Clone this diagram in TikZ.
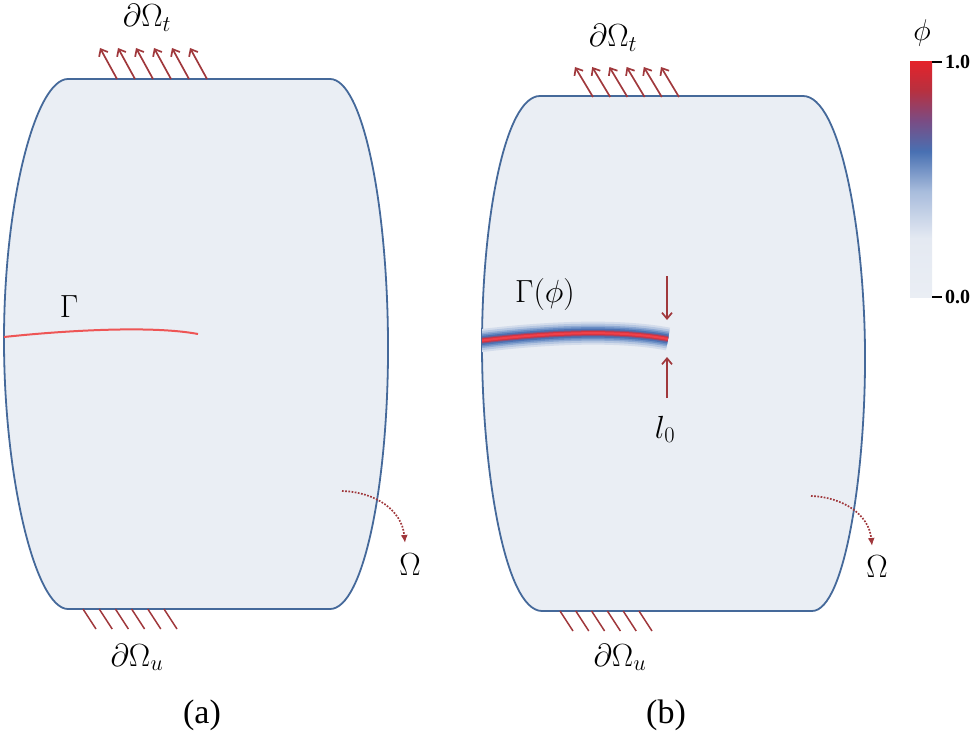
\RequirePackage{fix-cm}
\documentclass[tikz,border=0pt]{standalone}
\usepackage[no-math]{fontspec}
\setmainfont{Liberation Serif}
\usetikzlibrary{arrows.meta}
\definecolor{fillc}{HTML}{EAEEF4}
\definecolor{shapeblue}{HTML}{45699A}
\definecolor{loadred}{HTML}{A0383C}
\definecolor{crackred}{HTML}{EE5555}
\definecolor{cm0}{HTML}{EAEEF4}
\definecolor{cm1}{HTML}{E4E9F2}
\definecolor{cm2}{HTML}{A8BCDC}
\definecolor{cm3}{HTML}{4870B2}
\definecolor{cm4}{HTML}{7A4C84}
\definecolor{cm5}{HTML}{B8303F}
\definecolor{cm6}{HTML}{E3232B}
\pgfdeclareverticalshading{phimap}{100bp}{color(0bp)=(cm0); color(25bp)=(cm0); color(37.5bp)=(cm1); color(47.5bp)=(cm2); color(56bp)=(cm3); color(62.5bp)=(cm4); color(69bp)=(cm5); color(75bp)=(cm6); color(100bp)=(cm6)}
\begin{document}
\begin{tikzpicture}[x=1pt,y=-1pt,
  bodyshape/.style={draw=shapeblue, line width=1.8pt, fill=fillc},
  loadarrow/.style={draw=loadred, line width=1.7pt, -{Straight Barb[length=6pt,width=10pt]}},
  hatchline/.style={draw=loadred, line width=1.5pt},
  mlabel/.style={font=\fontsize{32}{36}\selectfont, inner sep=0pt, anchor=base},
  sublabel/.style={font=\fontsize{34}{38}\selectfont, inner sep=0pt, anchor=base},
  barlabel/.style={font=\fontsize{20}{22}\selectfont\bfseries, inner sep=0pt, anchor=west},
  dotarrow/.style={draw=loadred, line width=1.7pt, dash pattern=on 1.7pt off 1.5pt, -{Latex[length=8pt,width=7pt]}},
  widtharrow/.style={draw=loadred, line width=1.7pt, -{Straight Barb[length=6pt,width=10pt]}}]
\path[use as bounding box] (0,0) rectangle (980,733);

% ---------- (a) ----------
\path[bodyshape] (68,79) -- (330,79) .. controls (362,79) and (387,200) .. (388,340)
  .. controls (389,480) and (364,609) .. (330,609) -- (68,609)
  .. controls (36,609) and (4,480) .. (4,340) .. controls (4,200) and (36,79) .. (68,79) -- cycle;
\coordinate (ca0) at (4,337);
\coordinate (ca1) at (198,334);
\draw[crackred, line width=2pt] (ca0) .. controls (60,331) and (150,325) .. (ca1);
\node[mlabel] (gammaA) at (69,317) {$\Gamma$};
\foreach \i in {0,...,5} {
  \coordinate (ta\i) at ({117+18*\i},79);
  \coordinate (tta\i) at ({100+18*\i},48);
  \draw[loadarrow] (ta\i) -- (tta\i);
  \coordinate (ha\i) at ({83+16.2*\i},609);
  \coordinate (hha\i) at ({96+16.2*\i},629);
  \draw[hatchline] (ha\i) -- (hha\i);
}
\node[mlabel] (dtA) at (147,27) {$\partial\Omega_t$};
\node[mlabel] (duA) at (137,666) {$\partial\Omega_u$};
\coordinate (oa0) at (342,491);
\coordinate (oa1) at (405,543);
\draw[dotarrow] (oa0) .. controls (375,492) and (402,510) .. (oa1);
\node[mlabel] (omA) at (410,575) {$\Omega$};
\node[sublabel] (labA) at (202,723) {(a)};

% ---------- (b) ----------
\path[bodyshape] (540,96) -- (803,96) .. controls (840,96) and (864,230) .. (865,350)
  .. controls (866,470) and (845,611) .. (812,611) -- (542,611)
  .. controls (505,611) and (482,470) .. (482,345) .. controls (482,220) and (505,96) .. (540,96) -- cycle;
\begin{scope}
\clip (540,96) -- (803,96) .. controls (840,96) and (864,230) .. (865,350)
  .. controls (866,470) and (845,611) .. (812,611) -- (542,611)
  .. controls (505,611) and (482,470) .. (482,345) .. controls (482,220) and (505,96) .. (540,96) -- cycle;
\coordinate (cb0) at (470,342);
\coordinate (cb1) at (668,339);
\foreach \w/\c in {23/D3DCEB, 19/B5C6E1, 15/8EA9D3, 12/6A8DC4, 9/4D72B3, 6/85507C, 4/D53440, 2/F0404A} {
  \definecolor{bandc}{HTML}{\c}
  \draw[bandc, line width=\w pt] (cb0) .. controls (540,333) and (615,329) .. (cb1);
}
\end{scope}
\node[mlabel] (gammaB) at (545,302) {$\Gamma(\phi)$};
\coordinate (wa0) at (667,276);
\coordinate (wa1) at (667,320);
\coordinate (wb0) at (667,398);
\coordinate (wb1) at (667,357);
\draw[widtharrow] (wa0) -- (wa1);
\draw[widtharrow] (wb0) -- (wb1);
\node[mlabel] (lz) at (665,438) {$l_0$};
\foreach \i in {0,...,5} {
  \coordinate (tb\i) at ({593+17.2*\i},97);
  \coordinate (ttb\i) at ({575+17.2*\i},67);
  \draw[loadarrow] (tb\i) -- (ttb\i);
  \coordinate (hb\i) at ({560+15.8*\i},611);
  \coordinate (hhb\i) at ({573+15.8*\i},631);
  \draw[hatchline] (hb\i) -- (hhb\i);
}
\node[mlabel] (dtB) at (613,47) {$\partial\Omega_t$};
\node[mlabel] (duB) at (620,666) {$\partial\Omega_u$};
\coordinate (ob0) at (811,496);
\coordinate (ob1) at (872,546);
\draw[dotarrow] (ob0) .. controls (842,497) and (869,514) .. (ob1);
\node[mlabel] (omB) at (877,577) {$\Omega$};
\node[sublabel] (labB) at (666,723) {(b)};

% ---------- colour bar ----------
\shade[shading=phimap] (910,62) rectangle (932,297);
\coordinate (tk1a) at (932,62);
\coordinate (tk1b) at (942,62);
\coordinate (tk0a) at (932,297);
\coordinate (tk0b) at (942,297);
\draw[black, line width=2.5pt] (tk1a) -- (tk1b);
\draw[black, line width=2.5pt] (tk0a) -- (tk0b);
\node[barlabel] (one) at (945,62) {1.0};
\node[barlabel] (zero) at (945,297) {0.0};
\node[font=\fontsize{30}{34}\selectfont, inner sep=0pt] (phi) at (922,33) {$\phi$};
\end{tikzpicture}
\end{document}
